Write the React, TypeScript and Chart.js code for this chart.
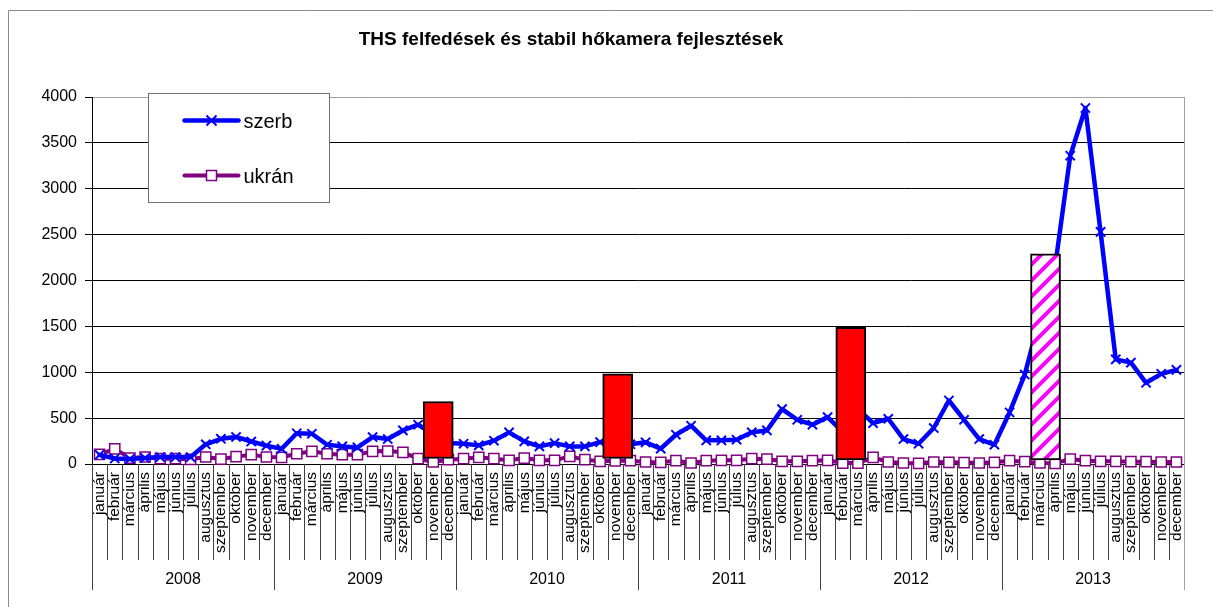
import React, { useEffect, useRef } from 'react';
import { Chart, registerables } from 'chart.js';

Chart.register(...registerables);

const TITLE = 'THS felfedések és stabil hőkamera fejlesztések';
const monthNames = ['január', 'február', 'március', 'április', 'május', 'június', 'július', 'augusztus', 'szeptember', 'október', 'november', 'december'];
const years = ['2008', '2009', '2010', '2011', '2012', '2013'];
const monthLabels = years.flatMap(() => monthNames);

const seriesNames = ['szerb', 'ukrán'];

const szerb = [
  100, 60, 55, 65, 75, 75, 75, 215, 275, 295, 245, 200,
  165, 335, 330, 210, 192, 181, 294, 272, 366, 428, 330, 228,
  221, 203, 254, 345, 247, 192, 228, 192, 192, 239, 230, 215,
  236, 167, 319, 417, 258, 258, 265, 345, 366, 598, 482, 428,
  511, 350, 600, 446, 493, 272, 221, 392, 692, 482, 272, 210,
  562, 975, 1600, 2150, 3360, 3880, 2530, 1140, 1105, 885, 982, 1026,
];

const ukran = [
  105, 165, 65, 76, 58, 58, 51, 76, 54, 80, 102, 76,
  73, 112, 138, 112, 102, 102, 138, 141, 127, 58, 22, 47,
  58, 73, 58, 40, 65, 40, 40, 83, 47, 29, 35, 36,
  22, 18, 36, 11, 36, 40, 40, 58, 54, 29, 29, 36,
  40, 10, 10, 72, 22, 11, 7, 22, 18, 15, 11, 18,
  36, 25, 11, 7, 54, 36, 29, 29, 25, 25, 22, 22,
];

// fejlesztések (bars): position in months counted from 2008 január, base and top values
const barMonths = [22.83, 34.66, 50.03, 62.87];
const barBases = [60, 60, 45, 45];
const barTops = [681, 982, 1490, 2290];
const barHatched = [false, false, false, true];

const yTicks = [0, 500, 1000, 1500, 2000, 2500, 3000, 3500, 4000];

const FONT = "'Liberation Sans', Arial, Helvetica, sans-serif";

function makeHatch(): CanvasPattern | string {
  const c = document.createElement('canvas');
  c.width = 16;
  c.height = 16;
  const g = c.getContext('2d');
  if (!g) return '#ff00ff';
  g.fillStyle = '#ffffff';
  g.fillRect(0, 0, 16, 16);
  g.strokeStyle = '#ff00ff';
  g.lineWidth = 4;
  g.beginPath();
  g.moveTo(-4, 20); g.lineTo(20, -4);
  g.moveTo(-4, 4); g.lineTo(4, -4);
  g.moveTo(12, 20); g.lineTo(20, 12);
  g.stroke();
  return g.createPattern(c, 'repeat') || '#ff00ff';
}

const decorPlugin = {
  id: 'decor',
  afterDraw(chart: any) {
    const ctx: CanvasRenderingContext2D = chart.ctx;
    const area = chart.chartArea;
    const xs = chart.scales.x;
    const ys = chart.scales.year;
    ctx.save();

    // outer frame
    ctx.strokeStyle = '#8c8c8c';
    ctx.lineWidth = 1;
    ctx.beginPath();
    ctx.moveTo(8.5, chart.height);
    ctx.lineTo(8.5, 10.5);
    ctx.lineTo(chart.width, 10.5);
    ctx.stroke();

    // category separators
    const n = monthLabels.length;
    const step = xs.getPixelForValue(1) - xs.getPixelForValue(0);
    const x0 = xs.getPixelForValue(0) - step / 2;
    for (let i = 0; i <= n; i++) {
      const px = Math.round(x0 + i * step) + 0.5;
      const yEnd = i % 12 === 0 ? ys.bottom : xs.bottom;
      ctx.beginPath();
      if (i === n) {
        ctx.strokeStyle = '#a0a0a0';
        ctx.moveTo(px, area.top);
      } else {
        ctx.strokeStyle = '#404040';
        ctx.moveTo(px, area.bottom);
      }
      ctx.lineTo(px, yEnd);
      ctx.stroke();
    }

    // title
    ctx.fillStyle = '#000';
    ctx.font = `bold 19px ${FONT}`;
    ctx.textAlign = 'center';
    ctx.textBaseline = 'alphabetic';
    ctx.fillText(TITLE, 571, 45);

    // legend
    const bx = area.left + 56.5;
    const by = area.top - 3.5;
    const bw = 181;
    const bh = 109;
    ctx.fillStyle = '#ffffff';
    ctx.fillRect(bx, by, bw, bh);
    ctx.strokeStyle = '#707070';
    ctx.lineWidth = 1;
    ctx.strokeRect(bx, by, bw, bh);

    const ds = chart.data.datasets;
    const items = [ds[1], ds[2]];
    items.forEach((d: any, k: number) => {
      const cy = by + 27 + k * 55;
      const lx1 = bx + 36;
      const lx2 = bx + 90;
      const mx = (lx1 + lx2) / 2;
      ctx.strokeStyle = d.borderColor;
      ctx.lineWidth = d.borderWidth;
      ctx.lineCap = 'round';
      ctx.beginPath();
      ctx.moveTo(lx1, cy);
      ctx.lineTo(lx2, cy);
      ctx.stroke();
      ctx.lineCap = 'butt';
      if (d.pointStyle === 'crossRot') {
        ctx.lineWidth = 2;
        ctx.beginPath();
        ctx.moveTo(mx - 5, cy - 5); ctx.lineTo(mx + 5, cy + 5);
        ctx.moveTo(mx + 5, cy - 5); ctx.lineTo(mx - 5, cy + 5);
        ctx.stroke();
      } else {
        ctx.fillStyle = d.pointBackgroundColor;
        ctx.lineWidth = 1.5;
        ctx.fillRect(mx - 5, cy - 5, 10, 10);
        ctx.strokeRect(mx - 5, cy - 5, 10, 10);
      }
      ctx.fillStyle = '#000';
      ctx.font = `20px ${FONT}`;
      ctx.textAlign = 'left';
      ctx.textBaseline = 'alphabetic';
      ctx.fillText(d.label, lx2 + 5, cy + 7.5);
    });

    ctx.restore();
  },
};

export default function App() {
  const ref = useRef<HTMLCanvasElement | null>(null);

  useEffect(() => {
    if (!ref.current) return;
    Chart.defaults.font.family = FONT;
    Chart.defaults.color = '#000';
    const hatch = makeHatch();

    const chart = new Chart(ref.current, {
      type: 'line',
      data: {
        labels: monthLabels,
        datasets: [
          {
            type: 'bar',
            label: 'fejlesztések',
            data: barMonths.map((m, i) => ({ x: m, y: [barBases[i], barTops[i]] })) as any,
            xAxisID: 'xb',
            yAxisID: 'y',
            backgroundColor: barHatched.map((h) => (h ? hatch : '#ff0000')) as any,
            borderColor: '#000000',
            borderWidth: 2,
            borderSkipped: false,
            grouped: false,
            barPercentage: 1,
            categoryPercentage: 1,
            maxBarThickness: 30,
            order: 0,
          } as any,
          {
            type: 'line',
            label: seriesNames[0],
            data: szerb,
            xAxisID: 'x',
            yAxisID: 'y',
            borderColor: '#0000ff',
            backgroundColor: '#0000ff',
            borderWidth: 4.5,
            borderJoinStyle: 'round',
            borderCapStyle: 'round',
            pointStyle: 'crossRot',
            pointRadius: 6.5,
            pointBorderWidth: 2,
            pointBorderColor: '#0000ff',
            pointBackgroundColor: '#0000ff',
            tension: 0,
            clip: false,
            order: 1,
          } as any,
          {
            type: 'line',
            label: seriesNames[1],
            data: ukran,
            xAxisID: 'x',
            yAxisID: 'y',
            borderColor: '#800080',
            backgroundColor: '#800080',
            borderWidth: 4,
            borderJoinStyle: 'round',
            borderCapStyle: 'round',
            pointStyle: 'rect',
            pointRadius: 7.2,
            pointBorderWidth: 1.5,
            pointBorderColor: '#800080',
            pointBackgroundColor: '#ffffff',
            tension: 0,
            clip: false,
            order: 2,
          } as any,
        ],
      },
      options: {
        responsive: false,
        animation: false,
        events: [],
        layout: { padding: { left: 0, right: 29, top: 97, bottom: 17 } },
        plugins: {
          legend: { display: false },
          title: { display: false },
          tooltip: { enabled: false },
        },
        scales: {
          x: {
            type: 'category',
            axis: 'x',
            position: 'bottom',
            offset: true,
            weight: 0,
            grid: { display: false, drawTicks: false },
            border: { display: true, color: '#000', width: 1 },
            ticks: {
              autoSkip: false,
              minRotation: 90,
              maxRotation: 90,
              padding: 8,
              color: '#000',
              font: { size: 15.5 },
            },
            afterFit: (s: any) => { s.height = 96; },
          },
          year: {
            type: 'category',
            axis: 'x',
            labels: years,
            position: 'bottom',
            offset: true,
            weight: 1,
            grid: { display: false, drawTicks: false },
            border: { display: false },
            ticks: { autoSkip: false, maxRotation: 0, minRotation: 0, padding: 10, color: '#000', font: { size: 16 } },
            afterFit: (s: any) => { s.height = 30; },
          },
          xb: {
            type: 'linear',
            axis: 'x',
            display: false,
            offset: false,
            min: 0,
            max: monthLabels.length,
            afterBuildTicks: (s: any) => { s.ticks = [{ value: 0 }, { value: monthLabels.length }]; },
          },
          y: {
            type: 'linear',
            position: 'left',
            min: yTicks[0],
            max: yTicks[yTicks.length - 1],
            afterBuildTicks: (s: any) => { s.ticks = yTicks.map((v) => ({ value: v })); },
            ticks: { color: '#000', font: { size: 16 }, padding: 8, callback: (v: any) => String(v) },
            grid: {
              color: (c: any) => (c.tick && c.tick.value === yTicks[yTicks.length - 1] ? '#a0a0a0' : '#000'),
              tickColor: '#000',
              tickLength: 7,
              lineWidth: 1,
            },
            border: { color: '#000', width: 1 },
            afterFit: (s: any) => { s.width = 92; },
          },
        } as any,
      },
      plugins: [decorPlugin],
    });

    return () => chart.destroy();
  }, []);

  return (
    <div style={{ position: 'absolute', left: 0, top: 0, width: 1213, height: 607, background: '#fff' }}>
      <canvas ref={ref} width={1213} height={607} style={{ display: 'block', width: 1213, height: 607 }} />
    </div>
  );
}
